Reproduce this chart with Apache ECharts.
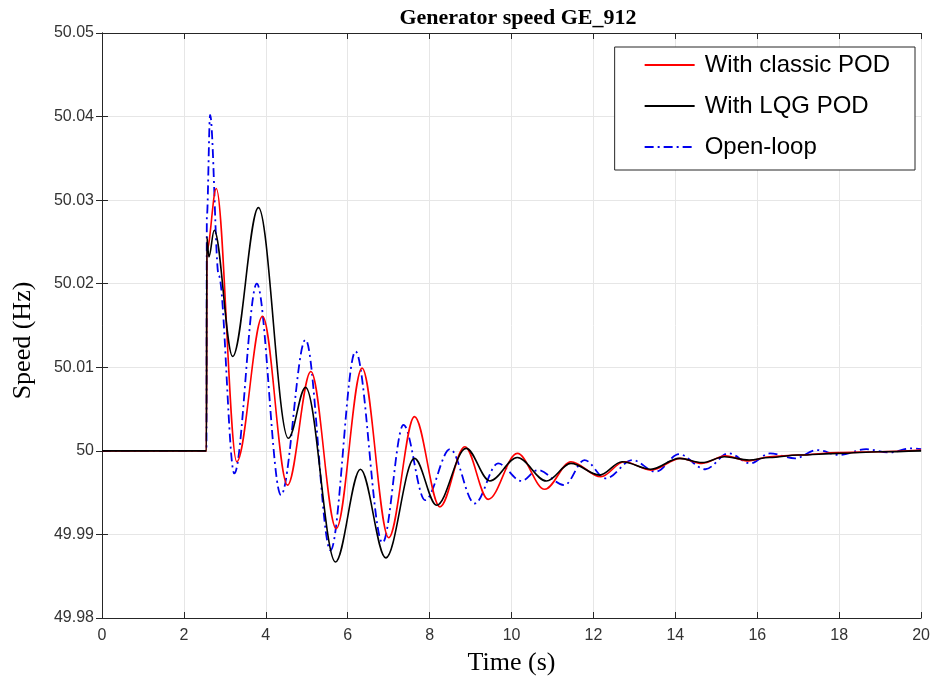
<!DOCTYPE html>
<html>
<head>
<meta charset="utf-8">
<script src="https://cdn.jsdelivr.net/npm/echarts@6/dist/echarts.min.js"></script>
<style>html,body{margin:0;padding:0;background:#fff;}#c{width:933px;height:691px;}</style>
</head>
<body>
<div id="c"></div>
<script>
// Axis ticks
const xTicks = [0, 2, 4, 6, 8, 10, 12, 14, 16, 18, 20];
const yTicks = [49.98, 49.99, 50, 50.01, 50.02, 50.03, 50.04, 50.05];

// With classic POD (red)
const tClassic = [0, 2.55, 2.56, 2.79, 3.29, 3.92, 4.53, 5.10, 5.72, 6.35, 7.0, 7.63, 8.25, 8.86, 9.43, 10.14, 10.81, 11.45, 12.18, 12.75, 13.4, 14.13, 14.65, 15.22, 15.79, 16.3, 17, 18, 19, 20];
const vClassic = [50, 50, 50.024, 50.0314, 49.9987, 50.0161, 49.9959, 50.0095, 49.9907, 50.0099, 49.9896, 50.0041, 49.9933, 50.0005, 49.9942, 49.9997, 49.9954, 49.9987, 49.9969, 49.9987, 49.9977, 49.9991, 49.9985, 49.9994, 49.9988, 49.9993, 49.9995, 49.9998, 49.9999, 50.0001];

// With LQG POD (black)
const tLQG = [0, 2.55, 2.56, 2.61, 2.74, 3.19, 3.82, 4.55, 4.97, 5.70, 6.31, 6.93, 7.63, 8.17, 8.89, 9.47, 10.14, 10.85, 11.45, 12.15, 12.7, 13.4, 14.1, 14.65, 15.2, 15.8, 16.3, 17, 18, 19, 20];
const vLQG = [50, 50, 50.0256, 50.0232, 50.0264, 50.0113, 50.0291, 50.0015, 50.0076, 49.9867, 49.9978, 49.9872, 49.9991, 49.9935, 50.0003, 49.9964, 49.9992, 49.9964, 49.9985, 49.9971, 49.9987, 49.9978, 49.9991, 49.9986, 49.9993, 49.9989, 49.9992, 49.9995, 49.9997, 49.9999, 50.0000];

// Open-loop (blue)
const tOpen = [0, 2.55, 2.56, 2.64, 2.85, 3.23, 3.78, 4.37, 4.97, 5.58, 6.19, 6.85, 7.36, 7.89, 8.50, 9.10, 9.67, 10.24, 10.64, 11.29, 11.78, 12.3, 12.95, 13.52, 14.09, 14.73, 15.3, 15.83, 16.31, 16.92, 17.45, 18.01, 18.66, 19.23, 19.76, 20];
const vOpen = [50, 50, 50.028, 50.0402, 50.021, 49.9973, 50.0200, 49.9947, 50.0133, 49.9881, 50.0119, 49.9890, 50.0031, 49.9941, 50.0002, 49.9937, 49.9985, 49.9964, 49.9977, 49.9959, 49.9989, 49.9967, 49.9989, 49.9975, 49.9996, 49.9978, 49.9997, 49.9985, 49.9997, 49.9991, 50.0001, 49.9995, 50.0002, 49.9998, 50.0003, 50.0002];

const zip = (t, v) => t.map((x, i) => [x, v[i]]);

const chart = echarts.init(document.getElementById('c'), null, {renderer: 'canvas'});
const axisCol = '#262626';
const gridCol = '#e6e6e6';
const tickFont = {fontFamily: 'Liberation Sans, Arial, sans-serif', fontSize: 16, color: '#333333'};

chart.setOption({
  animation: false,
  backgroundColor: '#fff',
  title: {
    text: 'Generator speed GE_912',
    left: 513, top: 2, textAlign: 'center',
    textStyle: {fontFamily: 'Liberation Serif, Times New Roman, serif', fontWeight: 'bold', fontSize: 22, color: '#000'}
  },
  grid: {left: 102, right: 8, top: 33, bottom: 73, containLabel: false},
  legend: {
    orient: 'vertical',
    right: 18, top: 47,
    data: ['With classic POD', 'With LQG POD', 'Open-loop'],
    backgroundColor: '#fff',
    borderColor: '#262626', borderWidth: 1,
    padding: [6, 25, 11, 29],
    itemWidth: 50, itemHeight: 20, itemGap: 17,
    itemStyle: {opacity: 0},
    textStyle: {fontFamily: 'Liberation Sans, Arial, sans-serif', fontSize: 24, color: '#000', padding: [0, 0, 0, 5]}
  },
  xAxis: [{
    type: 'value', min: 0, max: 20, interval: 2,
    name: 'Time (s)', nameLocation: 'middle', nameGap: 32,
    nameTextStyle: {fontFamily: 'Liberation Serif, Times New Roman, serif', fontSize: 26, color: '#000', verticalAlign: 'top'},
    axisLine: {show: true, lineStyle: {color: axisCol, width: 1}},
    axisTick: {show: true, inside: true, length: 6, lineStyle: {color: axisCol}},
    axisLabel: Object.assign({margin: 10, formatter: v => String(v)}, tickFont),
    splitLine: {show: true, lineStyle: {color: gridCol, width: 1}}
  }, {
    type: 'value', min: 0, max: 20, interval: 2, position: 'top',
    axisLine: {show: true, lineStyle: {color: axisCol, width: 1}},
    axisTick: {show: true, inside: true, length: 6, lineStyle: {color: axisCol}},
    axisLabel: {show: false}, splitLine: {show: false}
  }],
  yAxis: [{
    type: 'value', min: 49.98, max: 50.05, interval: 0.01,
    name: 'Speed (Hz)', nameLocation: 'middle', nameGap: 66,
    nameTextStyle: {fontFamily: 'Liberation Serif, Times New Roman, serif', fontSize: 26, color: '#000', padding: [0, 30, 0, 0]},
    axisLine: {show: true, lineStyle: {color: axisCol, width: 1}},
    axisTick: {show: true, inside: true, length: 6, lineStyle: {color: axisCol}},
    axisLabel: Object.assign({margin: 8, formatter: v => String(+v.toFixed(2))}, tickFont),
    splitLine: {show: true, lineStyle: {color: gridCol, width: 1}}
  }, {
    type: 'value', min: 49.98, max: 50.05, interval: 0.01, position: 'right',
    axisLine: {show: true, lineStyle: {color: axisCol, width: 1}},
    axisTick: {show: true, inside: true, length: 6, lineStyle: {color: axisCol}},
    axisLabel: {show: false}, splitLine: {show: false}
  }],
  series: [
    {
      name: 'Open-loop', type: 'line', data: zip(tOpen, vOpen),
      showSymbol: false, symbol: 'none', smooth: 0.35, smoothMonotone: 'x',
      lineStyle: {color: '#0000ee', width: 1.8, type: [9, 4, 2, 4]},
      itemStyle: {color: '#0000ee'}, z: 2
    },
    {
      name: 'With classic POD', type: 'line', data: zip(tClassic, vClassic),
      showSymbol: false, symbol: 'none', smooth: 0.35, smoothMonotone: 'x',
      lineStyle: {color: '#ff0000', width: 1.6},
      itemStyle: {color: '#ff0000'}, z: 3
    },
    {
      name: 'With LQG POD', type: 'line', data: zip(tLQG, vLQG),
      showSymbol: false, symbol: 'none', smooth: 0.35, smoothMonotone: 'x',
      lineStyle: {color: '#000000', width: 1.6},
      itemStyle: {color: '#000000'}, z: 4
    }
  ]
});
</script>
</body>
</html>
